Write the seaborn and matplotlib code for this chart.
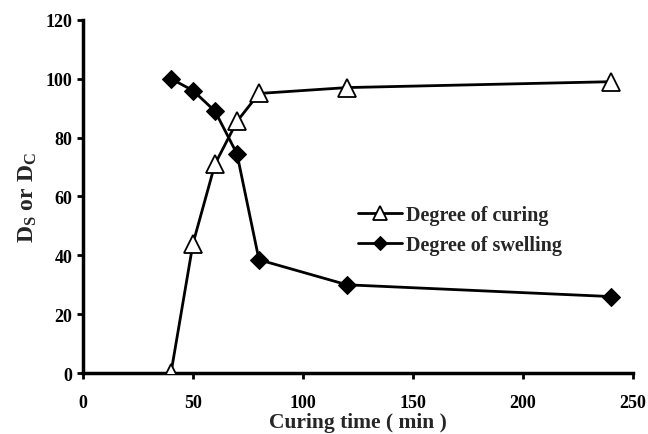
import matplotlib
matplotlib.use("Agg")
import matplotlib.pyplot as plt
import seaborn as sns
import pandas as pd

# Curing time (min) and measured degrees (%)
curing_time = [40, 50, 60, 70, 80, 120, 240]
degree_of_curing = [0, 44, 71, 85.5, 95, 97, 99]
degree_of_swelling = [100, 96, 89, 74.5, 38.5, 30, 26]

x_ticks = [0, 50, 100, 150, 200, 250]
y_ticks = [0, 20, 40, 60, 80, 100, 120]

sns.set_style("ticks")
plt.rcParams["font.family"] = ["Liberation Serif", "DejaVu Serif"]
plt.rcParams["font.weight"] = "bold"
plt.rcParams["mathtext.fontset"] = "custom"
plt.rcParams["mathtext.rm"] = "Liberation Serif:bold"
plt.rcParams["mathtext.it"] = "Liberation Serif:bold"
plt.rcParams["mathtext.bf"] = "Liberation Serif:bold"

df = pd.DataFrame({
    "t": curing_time,
    "curing": degree_of_curing,
    "swelling": degree_of_swelling,
})

fig = plt.figure(figsize=(6.48, 4.35), dpi=100)
ax = fig.add_axes([0.128, 0.140, 0.849, 0.812])

sns.lineplot(data=df, x="t", y="curing", ax=ax, color="black", linewidth=2,
             marker="^", markersize=13, markerfacecolor="white",
             markeredgecolor="black", markeredgewidth=1.3,
             label="Degree of curing", zorder=3)
sns.lineplot(data=df, x="t", y="swelling", ax=ax, color="black", linewidth=2,
             marker="D", markersize=9, markerfacecolor="black",
             markeredgecolor="black", label="Degree of swelling", zorder=4)

ax.set_xlim(0, 250)
ax.set_ylim(0, 120)
ax.set_xticks(x_ticks)
ax.set_yticks(y_ticks)
ax.tick_params(axis="both", labelsize=13, width=2, length=4, direction="out", colors="black")
ax.tick_params(axis="x", pad=11)
for lbl in ax.get_xticklabels() + ax.get_yticklabels():
    lbl.set_fontweight("bold")

for side in ("top", "right"):
    ax.spines[side].set_visible(False)
for side in ("left", "bottom"):
    ax.spines[side].set_linewidth(2.5)
    ax.spines[side].set_color("black")

ax.set_xlabel("Curing time ( min )", fontsize=15.5, fontweight="bold", labelpad=1)
ax.set_ylabel(r"D$_{\mathrm{S}}$ or D$_{\mathrm{C}}$", fontsize=17, fontweight="bold", labelpad=5)

leg = ax.legend(loc="center left", bbox_to_anchor=(0.467, 0.405), frameon=False,
                prop={"family": "Liberation Serif", "weight": "bold", "size": 14.5},
                handlelength=2.2, handletextpad=0.2, labelspacing=0.5,
                markerscale=0.75)

fig.savefig("out.png", dpi=100)
